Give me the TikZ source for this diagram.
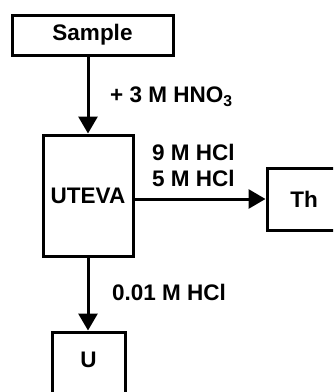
\documentclass[tikz,border=0pt]{standalone}
\usepackage{fontspec}
\setmainfont{Liberation Sans}
\usetikzlibrary{arrows.meta}
\tikzset{
  txt/.style={font=\fontsize{22.5}{26}\selectfont\bfseries},
  box/.style={draw, line width=3pt, inner sep=0pt, txt},
  lbl/.style={anchor=west, inner sep=0pt, txt},
  flow/.style={line width=3pt, -{Triangle[length=17pt,width=19pt]}}
}
\begin{document}
\begin{tikzpicture}[x=1pt,y=-1pt]
\useasboundingbox (0,0) rectangle (333,392);
\clip (0,0) rectangle (333,392);
\node[box, minimum width=161pt, minimum height=40pt] (sample) at (92.5,35) {Sample};
\node[box, minimum width=90pt, minimum height=121pt] (uteva) at (88,195.5) {UTEVA};
\node[box, minimum width=74pt, minimum height=62pt] (th) at (304,199) {Th};
\node[box, minimum width=73pt, minimum height=70pt] (u) at (88.5,367) {};
\node[txt, inner sep=0pt] (ut) at (88.5,360) {U};
\draw[flow] (sample.south -| uteva.north) -- (uteva.north);
\draw[flow] (uteva.east |- th.west) -- (th.west);
\draw[flow] (uteva.south) -- (uteva.south |- u.north);
\node[lbl] (l1) at (110,97) {+ 3 M HNO\textsubscript{3}};
\node[lbl] (l2) at (152,152) {9 M HCl};
\node[lbl] (l3) at (152,178) {5 M HCl};
\node[lbl] (l4) at (112,292) {0.01 M HCl};
\end{tikzpicture}
\end{document}
